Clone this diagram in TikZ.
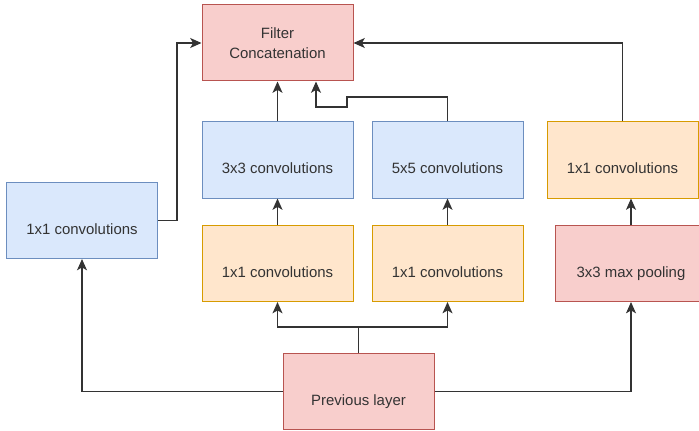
\documentclass[tikz,border=0pt]{standalone}
\usepackage{fontspec}
\setmainfont{Liberation Sans}
\usetikzlibrary{arrows.meta}
\definecolor{redfill}{HTML}{F8CECC}
\definecolor{redline}{HTML}{B85450}
\definecolor{bluefill}{HTML}{DAE8FC}
\definecolor{blueline}{HTML}{6C8EBF}
\definecolor{orangefill}{HTML}{FFE6CC}
\definecolor{orangeline}{HTML}{D79B00}
\definecolor{labeltext}{HTML}{333333}
\begin{document}
\begin{tikzpicture}[
      x=0.75pt, y=-0.75pt,
      box/.style={draw, line width=0.75pt, minimum width=113.25pt, minimum height=57pt,
                  inner sep=2pt, align=center, text=labeltext,
                  font=\fontsize{11.2}{14.5}\selectfont},
      lowtext/.style={text height=21pt, text depth=0pt},
      redbox/.style={box, fill=redfill, draw=redline},
      bluebox/.style={box, fill=bluefill, draw=blueline},
      orangebox/.style={box, fill=orangefill, draw=orangeline},
      link/.style={draw=black!80, line width=1pt},
      flow/.style={link, -{Stealth[length=8.5pt, width=7.5pt, inset=2.2pt]}}
    ]
      \useasboundingbox (0,0) rectangle (699,431);
      % boxes, placed at pixel centres
      \node[redbox] (concat) at (277.5,43) {Filter\\Concatenation};
      \node[bluebox,lowtext] (side) at (82,220.5) {1x1 convolutions};
      \node[bluebox,lowtext] (conv3) at (277.5,160) {3x3 convolutions};
      \node[bluebox,lowtext] (conv5) at (447.5,160) {5x5 convolutions};
      \node[orangebox,lowtext] (red3) at (277.5,263.5) {1x1 convolutions};
      \node[orangebox,lowtext] (red5) at (447.5,263.5) {1x1 convolutions};
      \node[orangebox,lowtext] (proj) at (622.5,160) {1x1 convolutions};
      \node[redbox,lowtext] (pool) at (631,263.5) {3x3 max pooling};
      \node[redbox,lowtext] (prev) at (358.5,391.5) {Previous layer};
      \coordinate (split) at (358.5,327);
      \coordinate (jog1) at (347,97);
      \coordinate (jog2) at (316,107);
      % connectors
      \draw[link] (prev.north) -- (split);
      \draw[flow] (split) -| (red3.south);
      \draw[flow] (split) -| (red5.south);
      \draw[flow] (prev.west) -| (side.south);
      \draw[flow] (prev.east) -| (pool.south);
      \draw[flow] (red3) -- (conv3);
      \draw[flow] (red5) -- (conv5);
      \draw[flow] (pool.north) -- (pool.north |- proj.south);
      \draw[flow] (conv3) -- (concat);
      \draw[flow] (conv5.north) |- (jog1) |- (jog2) -- (jog2 |- concat.south);
      \draw[flow] (side.east) -- ++(19,0) |- (concat.west);
      \draw[flow] (proj.north) |- (concat.east);
    \end{tikzpicture}
\end{document}
